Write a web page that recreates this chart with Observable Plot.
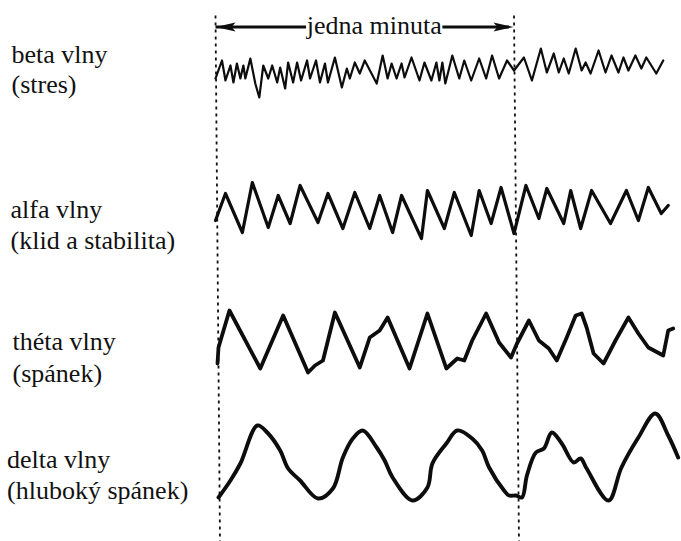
<!DOCTYPE html>
<html>
<head>
<meta charset="utf-8">
<script src="https://cdn.jsdelivr.net/npm/d3@7"></script>
<script src="https://cdn.jsdelivr.net/npm/@observablehq/plot@0.6"></script>
<style>
  html, body { margin: 0; padding: 0; background: #fff; }
  #chart svg { display: block; }
</style>
</head>
<body>
<div id="chart"></div>
<script>
// ---- Data (time in seconds, amplitude in arbitrary units, up = positive) ----
const minuteMarksTop = [0, 60];        // "jedna minuta" boundaries (s)
const minuteMarksBottom = [0.9, 61.0]; // same dashed lines at the bottom (scan skew)

const beta = [[0,-8],[1.3,10],[2,-10],[3,5],[3.6,-12],[4.3,7],[5,-8],[5.6,5],[6,-8],[7,12],[8,-13],[8.8,-27],[9.6,5],[10.6,-8],[11.4,5],[12.4,-12],[13,3],[14,-18],[14.6,8],[15.6,-12],[16.4,8],[17.2,-10],[18.4,10],[19,-8],[20.2,10],[21,-12],[22,7],[22.6,-12],[24,13],[25.4,-17],[26.4,2],[27,-8],[28,8],[29,-3],[30,10],[32.4,-13],[33.6,15],[34.6,-8],[35.4,7],[36.4,-8],[37.4,7],[38,-7],[39.4,13],[41,-10],[42,8],[43.4,-10],[44.4,8],[45,-10],[45.6,8],[46.2,-13],[47.6,15],[49,-8],[50,10],[51.4,-10],[53,12],[54.4,-8],[55.6,15],[57,-8],[58.6,10],[60,0],[62,13],[63.6,-10],[65.4,22],[66.6,-2],[68,17],[69,-2],[70,12],[71,-3],[72.4,22],[73.6,0],[74.4,8],[75.4,-3],[77,20],[78.4,-2],[79.6,15],[81,-2],[82,13],[83,0],[84.4,15],[85.6,2],[86.6,13],[88.6,-3],[90,10]];

const alfa = [[0,-10],[2,17],[5.4,-22],[7.4,28],[10.6,-17],[12.6,15],[15,-13],[17,25],[20.6,-12],[22.6,17],[25.6,-18],[28,18],[31,-18],[33,15],[35.6,-22],[37.4,15],[41.4,-28],[42.6,20],[46,-18],[48,18],[51.4,-25],[53,20],[55.4,-13],[57.4,23],[60,-23],[62.4,25],[65,-8],[66.6,22],[70,-13],[71.4,20],[73.4,-18],[75.6,20],[79.4,-13],[82.6,20],[85,-10],[87,23],[89.6,-3],[91,5]];

const theta = [[0.4,-23],[0.6,-7],[2.8,30],[9,-28],[13.6,25],[18.6,-32],[20,-25],[21.6,-20],[24,28],[29,-27],[31,3],[33,10],[34.6,23],[39,-28],[42.6,27],[46.4,-28],[48.6,-18],[50,-20],[51.6,0],[54.4,27],[57,-2],[59.4,-17],[60.6,-3],[63,20],[65,0],[67,-8],[68.6,-20],[70.6,3],[72.4,25],[73.6,27],[74.6,13],[76,-13],[78,-23],[80.4,0],[83,23],[85,7],[87,-7],[90,-15],[91,10],[92,12]];

const delta = [[0.6,-35],[3,-18],[5,-1],[8.4,37],[10.4,30],[13,12],[14.6,-6],[17,-18],[20.6,-36],[23.6,-26],[25.6,5],[27.6,24],[29.6,32],[32.4,15],[34,2],[35.6,-15],[39.6,-38],[42.6,-25],[43.6,-1],[46.4,19],[48.6,32],[51.6,24],[53.6,12],[55,-5],[58,-28],[59,-33],[60.4,-33],[61.6,-35],[62.6,-13],[64.4,10],[66,14],[67.6,30],[69.6,19],[72,0],[73.4,4],[74.6,-6],[79,-38],[81.6,-5],[85,25],[88.4,49],[91,27],[93,5]];

const waveNames = ["beta", "alfa", "theta", "delta"];
const labelLine1 = ["beta vlny", "alfa vlny", "théta vlny", "delta vlny"];
const labelLine2 = ["(stres)", "(klid a stabilita)", "(spánek)", "(hluboký spánek)"];
const arrowTitle = "jedna minuta";

// ---- layout (not data) ----
const rowCenter = [70, 210, 340, 462];         // vertical centre of each trace
const rowStroke = [2.2, 3.2, 3.8, 3.9];
const rowCurve = ["linear", "linear", "linear", "catmull-rom"];
const labelX = [-41.0, -41.2, -40.8, -41.9];
const labelY1 = [62, 217, 349, 467];
const labelY2 = [92, 248, 381, 498];
const serif = "Liberation Serif";

const series = [beta, alfa, theta, delta];
const points = series.flatMap((pts, i) =>
  pts.map(([t, a]) => ({wave: waveNames[i], row: i, t, y: rowCenter[i] - a})));

const labels = waveNames.flatMap((w, i) => [
  {text: labelLine1[i], x: labelX[i], y: labelY1[i]},
  {text: labelLine2[i], x: labelX[i], y: labelY2[i]}
]);

const arrowY = 26.5;
const arrowSegs = [
  {x1: minuteMarksTop[0], x2: 18.2},
  {x1: 45.6, x2: minuteMarksTop[1] - 1.0}
];
const headShape = {
  draw(ctx) {
    ctx.moveTo(0, 0);
    ctx.lineTo(-20, -4.6);
    ctx.lineTo(-16, 0);
    ctx.lineTo(-20, 4.6);
    ctx.closePath();
  }
};
const heads = [
  {x: minuteMarksTop[0], rot: 180},
  {x: minuteMarksTop[1] - 0.1, rot: 0}
];

const marks = [
  Plot.link(minuteMarksTop.map((x, i) => ({x1: x, x2: minuteMarksBottom[i]})), {
    x1: "x1", x2: "x2", y1: () => 15, y2: () => 541,
    stroke: "#111", strokeWidth: 1.8, strokeDasharray: "3,4"
  }),
  ...waveNames.map((w, i) => Plot.line(points.filter(d => d.row === i), {
    x: "t", y: "y", stroke: "#0d0d0d", strokeWidth: rowStroke[i],
    curve: rowCurve[i], strokeLinejoin: "round", strokeLinecap: "round"
  })),
  Plot.link(arrowSegs, {x1: "x1", x2: "x2", y1: () => arrowY, y2: () => arrowY,
    stroke: "#0d0d0d", strokeWidth: 3}),
  Plot.dot(heads, {x: "x", y: () => arrowY, symbol: headShape, r: 5,
    fill: "#0d0d0d", stroke: "none", rotate: "rot"}),
  Plot.text([arrowTitle], {x: () => 31.9, y: () => 33.5, text: d => d,
    textAnchor: "middle", lineAnchor: "bottom", fontSize: 26, fontFamily: serif, fill: "#111"}),
  Plot.text(labels, {x: "x", y: "y", text: "text", textAnchor: "start",
    lineAnchor: "bottom", fontSize: 26, fontFamily: serif, fill: "#111"})
];

const chart = Plot.plot({
  width: 681,
  height: 541,
  margin: 0,
  x: {domain: [-43.22, 93.67], range: [0, 681], axis: null},
  y: {domain: [0, 541], range: [0, 541], axis: null},
  style: {background: "#fff", overflow: "visible"},
  marks
});
chart.querySelectorAll("text").forEach(t => t.setAttribute("font-family", "'Liberation Serif'"));
chart.querySelectorAll("g[font-family]").forEach(g => g.setAttribute("font-family", "'Liberation Serif'"));
document.getElementById("chart").appendChild(chart);
</script>
</body>
</html>
